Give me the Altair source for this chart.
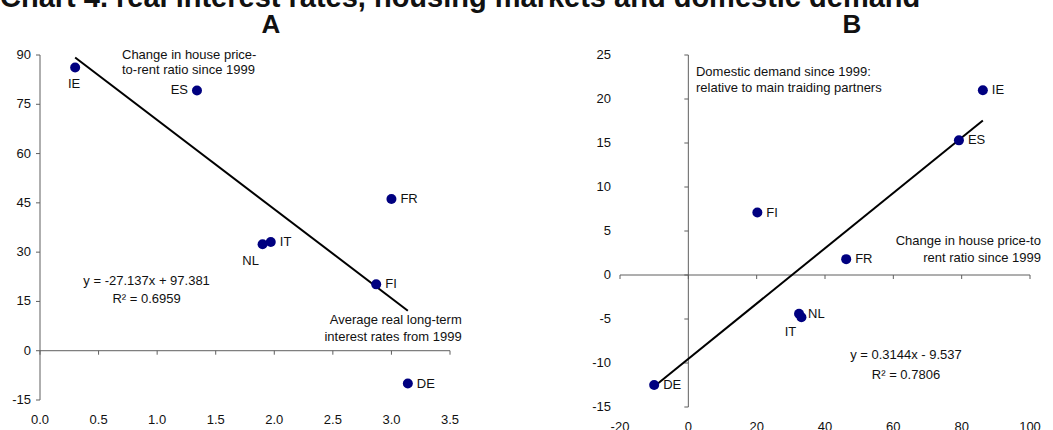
import altair as alt
import pandas as pd

FONT = "Liberation Sans"
INK = "#111111"
AXIS = "#5f5f5f"
DOT = "#000080"

# ---- data -------------------------------------------------------------
countries = ["IE", "ES", "FR", "IT", "NL", "FI", "DE"]
real_rate = [0.30, 1.34, 3.00, 1.97, 1.90, 2.87, 3.14]          # % average since 1999
price_to_rent = [86.2, 79.2, 46.2, 33.1, 32.4, 20.2, -10.0]     # % change since 1999
domestic_demand = [21.0, 15.3, 1.8, -4.8, -4.4, 7.1, -12.5]     # relative to trading partners

a_x_ticks = [0.0, 0.5, 1.0, 1.5, 2.0, 2.5, 3.0, 3.5]
a_y_ticks = [-15, 0, 15, 30, 45, 60, 75, 90]
b_x_ticks = [-20, 0, 20, 40, 60, 80, 100]
b_y_ticks = [-15, -10, -5, 0, 5, 10, 15, 20, 25]

a_slope, a_intercept, a_r2 = -27.137, 97.381, 0.6959
b_slope, b_intercept, b_r2 = 0.3144, -9.537, 0.7806

chart_title = "Chart 4. real interest rates, housing markets and domestic demand"

# ---- layout: each panel gets its own domain and pixel range ------------
PANEL_A = {"x": ([0, 3.5], [40, 450]), "y": ([-15, 90], [400, 55])}
PANEL_B = {"x": ([-20, 100], [620, 1030]), "y": ([-15, 25], [407, 55])}

# label placement around dots: (dx, dy, align); others sit to the right
RIGHT = (9, 0, "left")
A_PLACE = {"IE": (-1, 17, "center"), "ES": (-9, 0, "right"), "NL": (-12, 17, "center")}
B_PLACE = {"IT": (-11, 15, "center")}


def xy(panel):
    (xd, xr), (yd, yr) = panel["x"], panel["y"]
    return dict(
        x=alt.X("x:Q", scale=alt.Scale(domain=xd, range=xr, nice=False, zero=False), axis=None),
        y=alt.Y("y:Q", scale=alt.Scale(domain=yd, range=yr, nice=False, zero=False), axis=None),
    )


def text_mark(**kw):
    base = dict(font=FONT, fontSize=13, color=INK)
    base.update(kw)
    return alt.Chart(pd.DataFrame({"x": [0], "y": [0]})).mark_text(**base)


def panel_layers(panel, xs, ys, x_ticks, y_ticks, x_fmt, slope, intercept, r2,
                 place, eq_at, eq_lh, notes):
    (xd, _), (yd, _) = panel["x"], panel["y"]
    layers = []

    # axis lines crossing at the origin
    axes_df = pd.DataFrame({"x": [0, xd[0]], "x2": [0, xd[1]],
                            "y": [yd[0], 0], "y2": [yd[1], 0]})
    layers.append(alt.Chart(axes_df).mark_rule(color=AXIS, strokeWidth=1).encode(
        **xy(panel), x2="x2:Q", y2="y2:Q"))

    # tick marks on the axis lines
    yt = pd.DataFrame({"x": [0] * len(y_ticks), "y": y_ticks})
    layers.append(alt.Chart(yt).mark_rule(color=AXIS, strokeWidth=1, x2Offset=-4).encode(
        **xy(panel), x2=alt.X2("x")))
    xt = pd.DataFrame({"x": x_ticks, "y": [0] * len(x_ticks)})
    layers.append(alt.Chart(xt).mark_rule(color=AXIS, strokeWidth=1, y2Offset=4).encode(
        **xy(panel), y2=alt.Y2("y")))

    # tick labels along the left and bottom edges
    yl = pd.DataFrame({"x": [xd[0]] * len(y_ticks), "y": y_ticks,
                       "lab": [f"{t:d}" for t in y_ticks]})
    layers.append(alt.Chart(yl).mark_text(font=FONT, fontSize=13, color=INK, align="right",
                                          baseline="middle", dx=-9).encode(
        **xy(panel), text="lab:N"))
    xl = pd.DataFrame({"x": x_ticks, "y": [yd[0]] * len(x_ticks),
                       "lab": [format(t, x_fmt) for t in x_ticks]})
    layers.append(alt.Chart(xl).mark_text(font=FONT, fontSize=13, color=INK, align="center",
                                          baseline="middle", dy=20).encode(
        **xy(panel), text="lab:N"))

    # fitted trend line over the data range
    lo, hi = min(xs), max(xs)
    trend = pd.DataFrame({"x": [lo, hi], "y": [slope * lo + intercept, slope * hi + intercept]})
    layers.append(alt.Chart(trend).mark_line(color="black", strokeWidth=2).encode(**xy(panel)))

    # country dots and their labels
    pts = pd.DataFrame({"x": xs, "y": ys, "c": countries})
    layers.append(alt.Chart(pts).mark_circle(size=100, color=DOT, opacity=1).encode(**xy(panel)))
    groups = {}
    for c in countries:
        groups.setdefault(place.get(c, RIGHT), []).append(c)
    for (dx, dy, align), members in groups.items():
        layers.append(alt.Chart(pts).transform_filter(
            alt.FieldOneOfPredicate(field="c", oneOf=members)
        ).mark_text(font=FONT, fontSize=13, color=INK, align=align, baseline="middle",
                    dx=dx, dy=dy).encode(**xy(panel), text="c:N"))

    # regression equation
    sign = "+" if intercept >= 0 else "-"
    eq = [f"y = {slope}x {sign} {abs(intercept)}", f"R² = {r2}"]
    eq_df = pd.DataFrame({"x": [eq_at[0]], "y": [eq_at[1]]})
    layers.append(alt.Chart(eq_df).mark_text(font=FONT, fontSize=13, color=INK, align="center",
                                             baseline="alphabetic", lineHeight=eq_lh).encode(
        **xy(panel), text=alt.value(eq)))

    # axis captions
    for (nx, ny), lines, align, lh in notes:
        ndf = pd.DataFrame({"x": [nx], "y": [ny]})
        layers.append(alt.Chart(ndf).mark_text(font=FONT, fontSize=13, color=INK, align=align,
                                               baseline="alphabetic", lineHeight=lh).encode(
            **xy(panel), text=alt.value(lines)))
    return layers


layers_a = panel_layers(
    PANEL_A, real_rate, price_to_rent, a_x_ticks, a_y_ticks, ".1f",
    a_slope, a_intercept, a_r2, A_PLACE, (0.91, 20.15), 18.5,
    [((0.70, 88.9), ["Change in house price-", "to-rent ratio since 1999"], "left", 15.5),
     ((3.60, 8.2), ["Average real long-term", "interest rates from 1999"], "right", 17.4)],
)
layers_b = panel_layers(
    PANEL_B, price_to_rent, domestic_demand, b_x_ticks, b_y_ticks, "d",
    b_slope, b_intercept, b_r2, B_PLACE, (63.7, -9.6), 20,
    [((2.24, 22.6), ["Domestic demand since 1999:", "relative to main traiding partners"], "left", 15.6),
     ((103.2, 3.4), ["Change in house price-to", "rent ratio since 1999"], "right", 17)],
)

# headings
heads = [
    text_mark(fontSize=29, fontWeight="bold", align="left", baseline="alphabetic").encode(
        x=alt.value(0), y=alt.value(7), text=alt.value(chart_title)),
    text_mark(fontSize=26, fontWeight="bold", align="center", baseline="alphabetic").encode(
        x=alt.value(271), y=alt.value(33), text=alt.value("A")),
    text_mark(fontSize=26, fontWeight="bold", align="center", baseline="alphabetic").encode(
        x=alt.value(852), y=alt.value(33), text=alt.value("B")),
]

chart = alt.layer(*layers_a, *layers_b, *heads).resolve_scale(
    x="independent", y="independent"
).properties(
    width=1053, height=430,
    autosize=alt.AutoSizeParams(type="none"),
    padding=0,
    background="white",
).configure_view(stroke=None)

chart.save("out.html", embed_options={"renderer": "svg", "actions": False})
